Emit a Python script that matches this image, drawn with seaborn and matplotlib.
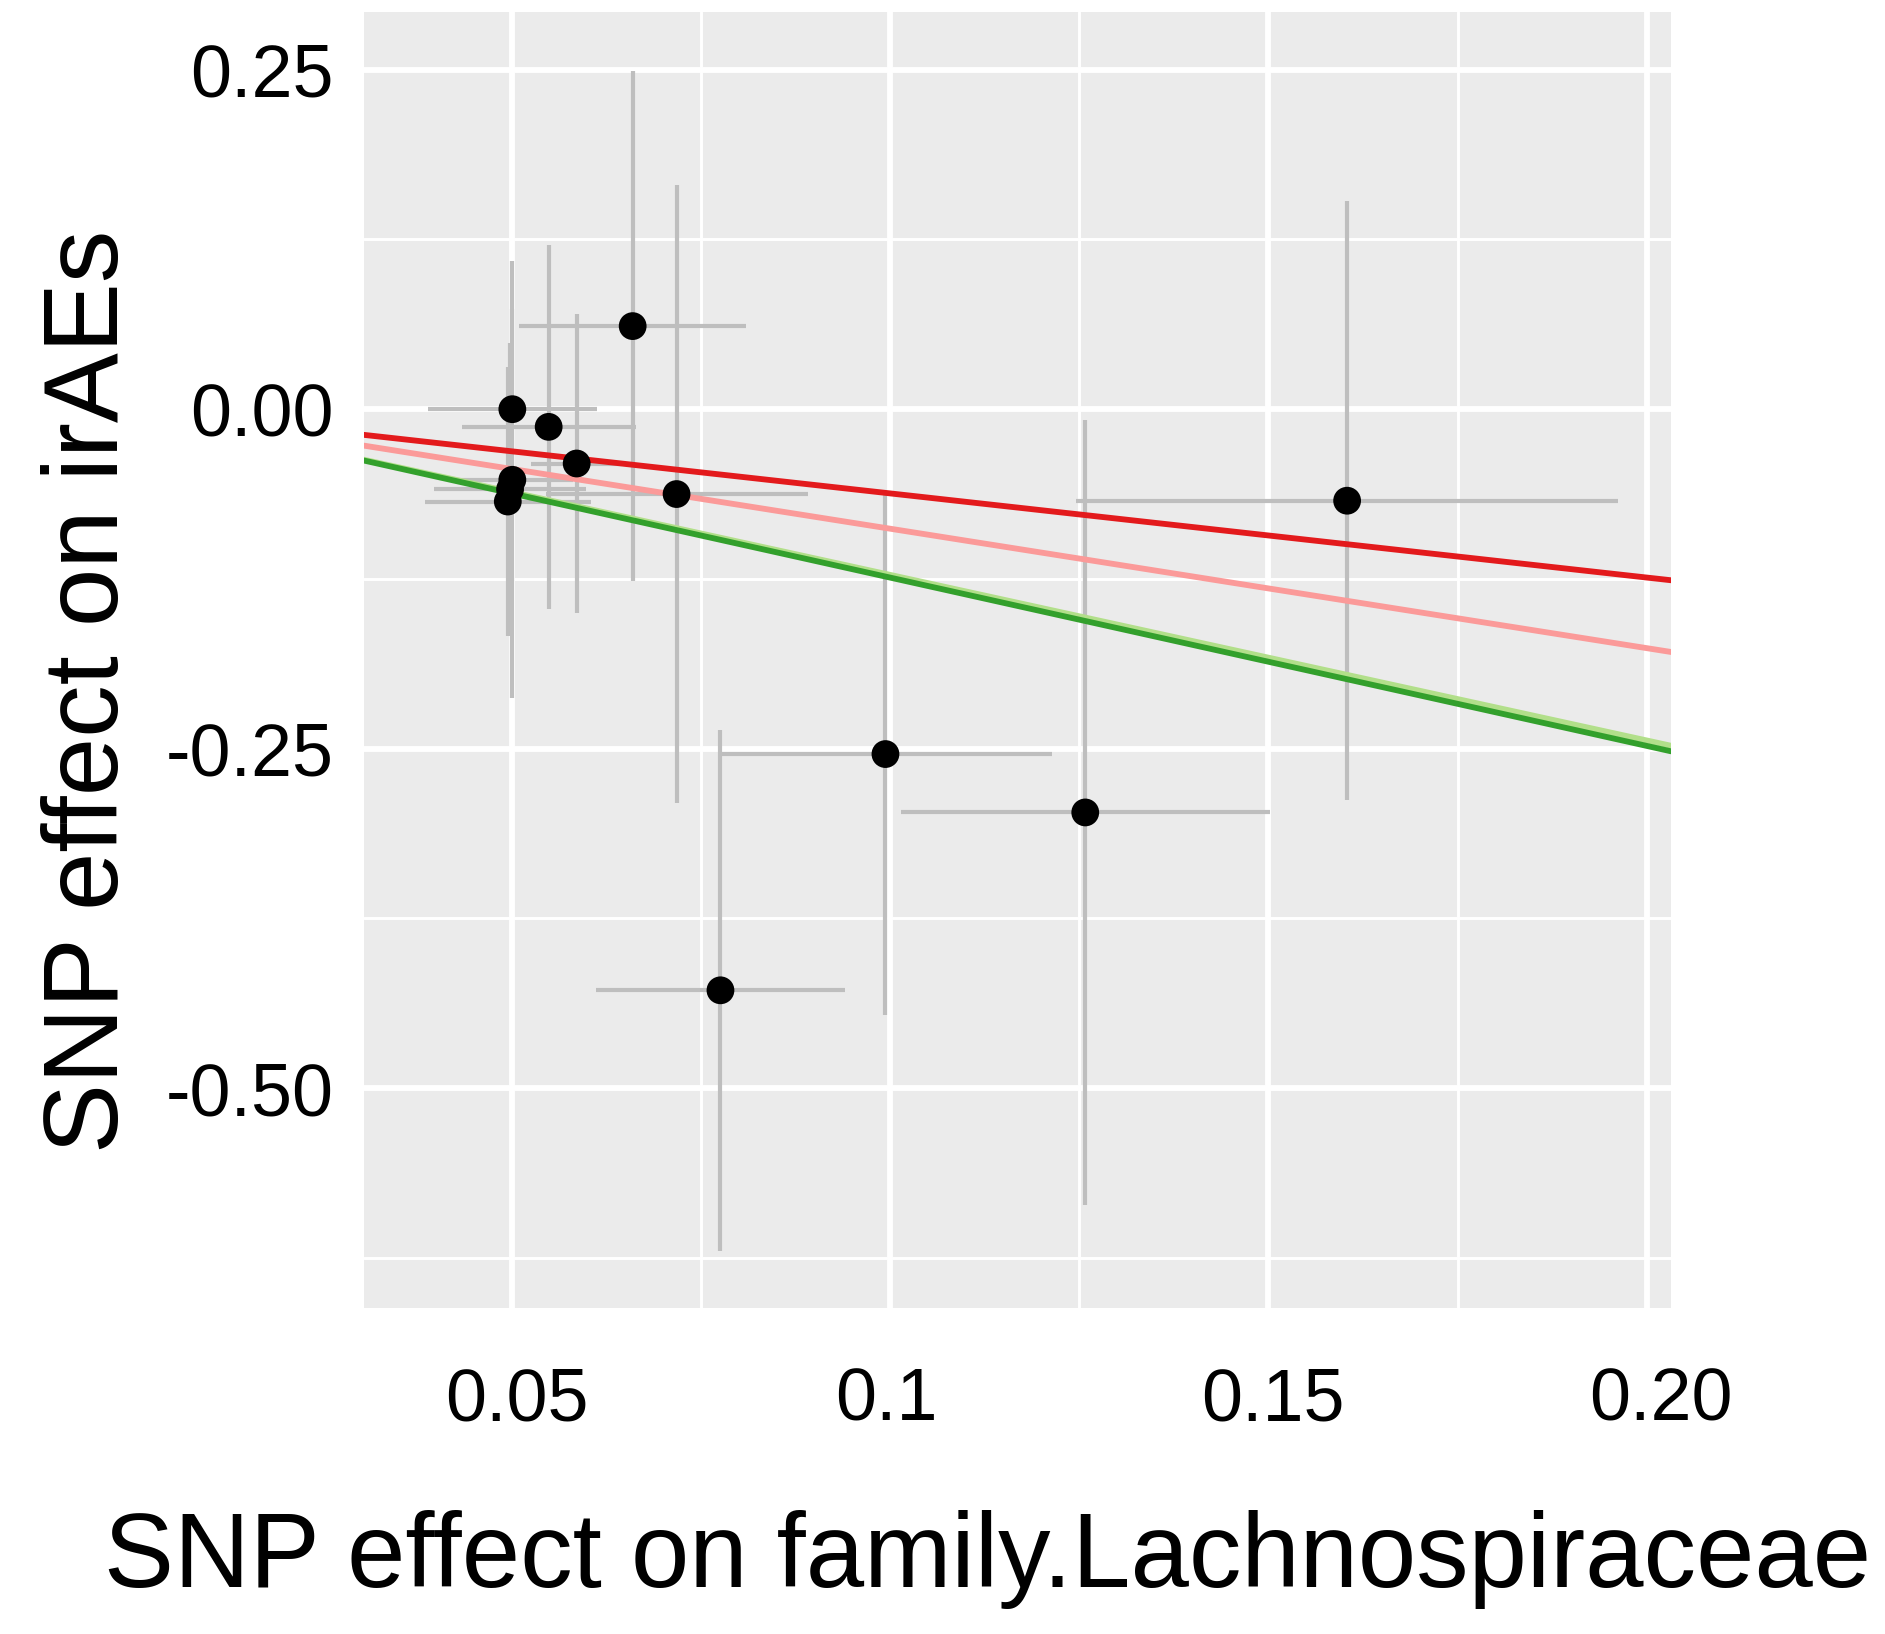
import numpy as np
import pandas as pd
import matplotlib
matplotlib.use("Agg")
import matplotlib.pyplot as plt
import matplotlib.transforms as mtransforms
import seaborn as sns

# ---- data ----
beta_exposure = [0.0660, 0.0501, 0.0501, 0.0498, 0.0495, 0.0549, 0.0586, 0.0718, 0.0994, 0.1258, 0.0776, 0.1604]
beta_outcome  = [0.0612, 0.0000, -0.0520, -0.0590, -0.0680, -0.0130, -0.0400, -0.0625, -0.2540, -0.2970, -0.4280, -0.0674]
se_exposure   = [0.0150, 0.0112, 0.0080, 0.0100, 0.0110, 0.0115, 0.0060, 0.0173, 0.0220, 0.0244, 0.0165, 0.0358]
se_outcome    = [0.1880, 0.0740, 0.1610, 0.1080, 0.0990, 0.1340, 0.1100, 0.2275, 0.1920, 0.2890, 0.1920, 0.2205]

method_names  = ["Method 3", "Method 4", "Method 5", "Method 6"]
method_slopes = [-1.22, -1.24, -0.88, -0.62]
method_colors = ["#b2df8a", "#33a02c", "#fb9a99", "#e31a1c"]

x_ticks = [0.05, 0.10, 0.15, 0.20]
x_tick_labels = ["0.05", "0.1", "0.15", "0.20"]
y_ticks = [0.25, 0.0, -0.25, -0.50]
y_tick_labels = ["0.25", "0.00", "-0.25", "-0.50"]

df = pd.DataFrame({"bx": beta_exposure, "by": beta_outcome,
                   "sx": se_exposure, "sy": se_outcome})

sns.set_theme(style="darkgrid", rc={
    "axes.facecolor": "#EBEBEB",
    "grid.color": "white",
})
plt.rcParams["font.family"] = ["Liberation Sans", "DejaVu Sans"]

fig = plt.figure(figsize=(18.85, 16.34), dpi=100)
ax = fig.add_axes([0.1931, 0.1995, 0.8865 - 0.1931, 0.9927 - 0.1995])

# error bars
ax.errorbar(df["bx"], df["by"], yerr=df["sy"], fmt="none", ecolor="#BEBEBE",
            elinewidth=3.0, capsize=0, zorder=2)
ax.errorbar(df["bx"], df["by"], xerr=df["sx"], fmt="none", ecolor="#BEBEBE",
            elinewidth=3.0, capsize=0, zorder=2)

# regression lines through origin
for name, slope, col in zip(method_names, method_slopes, method_colors):
    ax.axline((0, 0), slope=slope, color=col, linewidth=4.2, zorder=3)

sns.scatterplot(data=df, x="bx", y="by", color="black", s=400, edgecolor="none",
                ax=ax, zorder=4)

ax.set_xlim(0.0305, 0.2032)
ax.set_ylim(-0.662, 0.2926)

ax.set_xticks(x_ticks)
ax.set_xticklabels(x_tick_labels)
ax.set_yticks(y_ticks)
ax.set_yticklabels(y_tick_labels)
ax.set_xticks([0.075, 0.125, 0.175], minor=True)
ax.set_yticks([0.125, -0.125, -0.375, -0.625], minor=True)

ax.grid(which="major", color="white", linewidth=4.2)
ax.grid(which="minor", color="white", linewidth=2.1)
ax.set_axisbelow(True)
for sp in ax.spines.values():
    sp.set_visible(False)

ax.tick_params(axis="both", which="major", length=12, width=2.4, color="#333333",
               labelsize=53, labelcolor="black")
ax.tick_params(axis="x", which="major", pad=30)
ax.tick_params(axis="y", which="major", pad=10)
ax.tick_params(axis="both", which="minor", length=0)

# small horizontal offsets of the x tick labels as in the reference
x_label_shift_px = [5, -4, 4, 14]
for lab, dx in zip(ax.get_xticklabels(), x_label_shift_px):
    lab.set_transform(lab.get_transform() +
                      mtransforms.ScaledTranslation(dx / 100, 0, fig.dpi_scale_trans))

ax.set_xlabel("SNP effect on family.Lachnospiraceae", fontsize=75.5, color="black")
ax.set_ylabel("SNP effect on irAEs", fontsize=75.5, color="black")
ax.xaxis.set_label_coords(0.4767, -0.1937)
ax.xaxis.label.set_va("center")
ax.yaxis.set_label_coords(-0.2096, 0.476)
ax.yaxis.label.set_va("center")

fig.savefig("out.png", dpi=100, facecolor="white")
